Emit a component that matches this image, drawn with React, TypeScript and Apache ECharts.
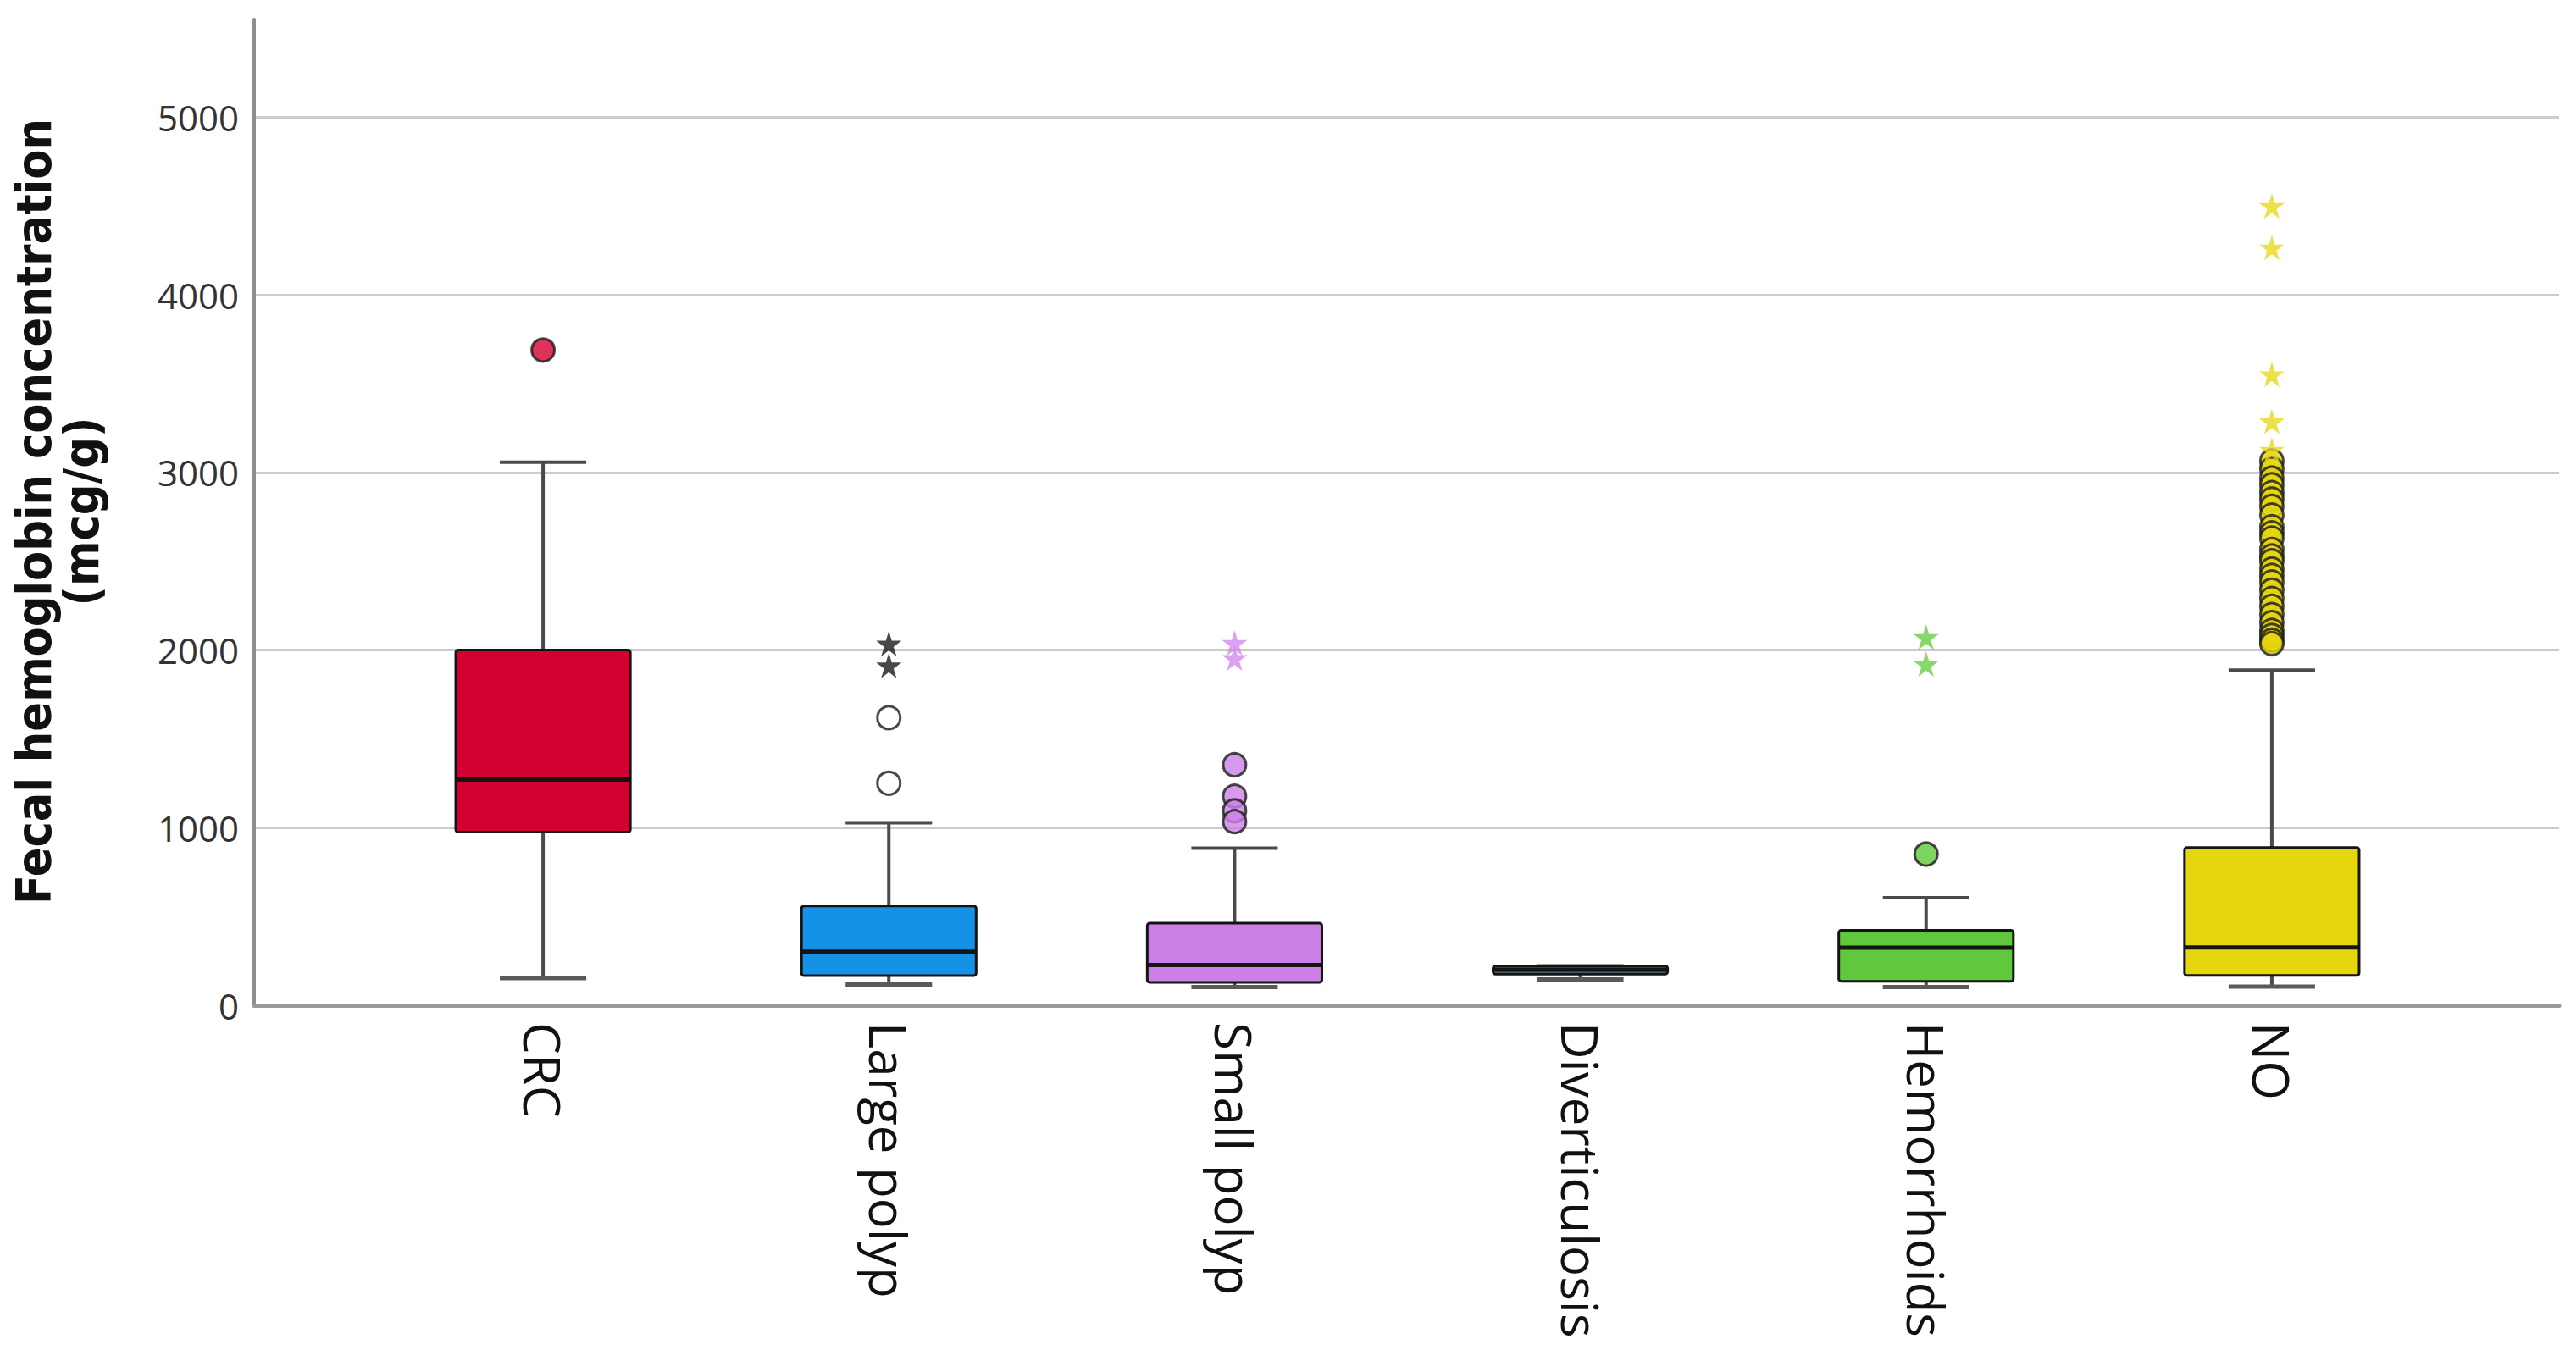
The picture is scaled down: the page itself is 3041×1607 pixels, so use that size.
import React, { useEffect, useRef } from "react";
import * as echarts from "echarts";

const categories = ["CRC", "Large polyp", "Small polyp", "Diverticulosis", "Hemorrhoids", "NO"];
const whiskerLow = [153, 117, 102, 145, 102, 105];
const q1 = [975, 167, 129, 175, 135, 168];
const median = [1271, 301, 226, 200, 324, 326];
const q3 = [2000, 559, 463, 222, 422, 888];
const whiskerHigh = [3058, 1027, 884, 222, 605, 1887];

const boxColors = ["#D40032", "#1591E6", "#CC80E6", "#5B6E82", "#5FC83C", "#E5D60E"];
const circleFill = ["#D40032", "#FFFFFF", "#CC80E6", "#5B6E82", "#5FC83C", "#E5D60E"];
const starColors = ["#D40032", "#1A1A1A", "#D48AF0", "#5B6E82", "#6ACD48", "#E8D820"];

const circleOutliers: number[][] = [
  [3689],
  [1619, 1250],
  [1354, 1177, 1095, 1034],
  [],
  [851],
  [3065, 3020, 2968, 2930, 2886, 2850, 2809, 2760, 2694, 2660, 2630, 2566, 2530, 2502, 2456, 2420, 2383, 2337, 2290, 2246, 2200, 2154, 2110, 2082, 2055, 2036],
];
const starOutliers: number[][] = [
  [],
  [2036, 1913],
  [2040, 1955],
  [],
  [2073, 1922],
  [4500, 4266, 3552, 3288, 3127],
];

const yMin = 0;
const yMax = 5550;
const yInterval = 1000;
const yTitle = "Fecal hemoglobin concentration\n(mcg/g)";

const STAR = "path://M50,0 L61,35 L98,35 L68,57 L79,91 L50,70 L21,91 L32,57 L2,35 L39,35 Z";

export default function App() {
  const ref = useRef<HTMLDivElement>(null);
  useEffect(() => {
    document.body.style.margin = "0";
    if (!ref.current) return;
    const chart = echarts.init(ref.current, undefined, { renderer: "svg" });

    const boxData = categories.map((_, i) => [i, whiskerLow[i], q1[i], median[i], q3[i], whiskerHigh[i]]);
    const circleData: any[] = [];
    circleOutliers.forEach((arr, i) =>
      arr.forEach((v) =>
        circleData.push({ value: [i, v], itemStyle: { color: circleFill[i], borderColor: "#1a1a1a", borderWidth: 3 } })
      )
    );
    const starData: any[] = [];
    starOutliers.forEach((arr, i) =>
      arr.forEach((v) => starData.push({ value: [i, v], itemStyle: { color: starColors[i] } }))
    );

    const option: any = {
      animation: false,
      backgroundColor: "#ffffff",
      grid: [
        { left: 300, right: 20, top: 23, bottom: 420 },
        { left: 437, right: 155, top: 23, bottom: 420 },
      ],
      xAxis: [
        {
          type: "value",
          gridIndex: 0,
          min: 0,
          max: 1,
          axisLine: { show: true, lineStyle: { color: "#999999", width: 5 } },
          axisTick: { show: false },
          axisLabel: { show: false },
          splitLine: { show: false },
        },
        {
          type: "category",
          gridIndex: 1,
          data: categories,
          boundaryGap: true,
          axisLine: { show: false },
          axisTick: { show: false },
          axisLabel: {
            rotate: -90,
            margin: 20,
            fontSize: 60,
            fontFamily: "'Open Sans', 'Noto Sans', sans-serif",
            color: "#111111",
            interval: 0,
          },
          splitLine: { show: false },
        },
      ],
      yAxis: [
        {
          type: "value",
          gridIndex: 0,
          min: yMin,
          max: yMax,
          interval: yInterval,
          axisLine: { show: true, lineStyle: { color: "#8f8f8f", width: 4 } },
          axisTick: { show: false },
          axisLabel: {
            margin: 18,
            fontSize: 42,
            fontFamily: "'Open Sans', 'Noto Sans', sans-serif",
            color: "#333333",
            showMaxLabel: false,
            formatter: (v: number) => String(v),
          },
          splitLine: { show: true, showMaxLine: false, lineStyle: { color: "#cccccc", width: 3 } },
        },
        {
          type: "value",
          gridIndex: 1,
          min: yMin,
          max: yMax,
          interval: yInterval,
          show: false,
          splitLine: { show: false },
        },
      ],
      graphic: [
        {
          type: "text",
          x: 68,
          y: 604,
          rotation: Math.PI / 2,
          style: {
            text: yTitle,
            font: "bold 57px 'Liberation Sans Narrow', 'DejaVu Sans Condensed', sans-serif",
            fill: "#111111",
            align: "center",
            verticalAlign: "middle",
            lineHeight: 56,
          },
        },
      ],
      series: [
        {
          type: "custom",
          xAxisIndex: 1,
          yAxisIndex: 1,
          data: boxData,
          encode: { x: 0, y: [1, 2, 3, 4, 5] },
          z: 3,
          renderItem: (params: any, api: any) => {
            const i = api.value(0);
            const pLo = api.coord([i, api.value(1)]);
            const pQ1 = api.coord([i, api.value(2)]);
            const pMed = api.coord([i, api.value(3)]);
            const pQ3 = api.coord([i, api.value(4)]);
            const pHi = api.coord([i, api.value(5)]);
            const band = api.size([1, 0])[0];
            const bw = band * 0.505;
            const cw = band * 0.25;
            const x = pLo[0];
            const wStyle = { stroke: "#4a4a4a", lineWidth: 4 };
            return {
              type: "group",
              children: [
                { type: "line", shape: { x1: x, y1: pLo[1], x2: x, y2: pQ1[1] }, style: wStyle },
                { type: "line", shape: { x1: x, y1: pQ3[1], x2: x, y2: pHi[1] }, style: wStyle },
                { type: "line", shape: { x1: x - cw / 2, y1: pLo[1], x2: x + cw / 2, y2: pLo[1] }, style: { stroke: "#5a5a5a", lineWidth: 5 } },
                { type: "line", shape: { x1: x - cw / 2, y1: pHi[1], x2: x + cw / 2, y2: pHi[1] }, style: { stroke: "#4a4a4a", lineWidth: 4 } },
                {
                  type: "rect",
                  shape: { x: x - bw / 2, y: pQ3[1], width: bw, height: pQ1[1] - pQ3[1], r: 3 },
                  style: { fill: boxColors[i], stroke: "#141414", lineWidth: 3 },
                },
                { type: "line", shape: { x1: x - bw / 2, y1: pMed[1], x2: x + bw / 2, y2: pMed[1] }, style: { stroke: "#141414", lineWidth: 5 } },
              ],
            };
          },
        },
        {
          type: "scatter",
          xAxisIndex: 1,
          yAxisIndex: 1,
          symbol: "circle",
          symbolSize: 27,
          data: circleData,
          z: 4,
        },
        {
          type: "scatter",
          xAxisIndex: 1,
          yAxisIndex: 1,
          symbol: STAR,
          symbolSize: 30,
          data: starData,
          z: 5,
        },
      ],
    };
    chart.setOption(option);
    return () => chart.dispose();
  }, []);
  return <div ref={ref} style={{ width: 3041, height: 1607 }} />;
}
